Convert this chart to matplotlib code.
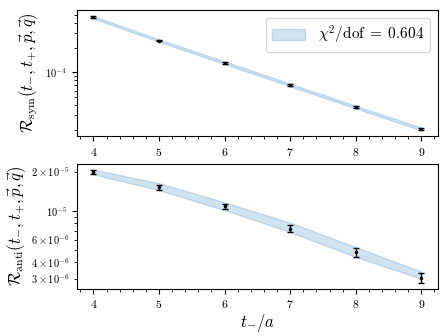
import matplotlib
matplotlib.use('Agg')
import matplotlib.pyplot as plt
from matplotlib.ticker import AutoMinorLocator

# Fonts: LaTeX-like look
plt.rcParams['mathtext.fontset'] = 'cm'
plt.rcParams['font.family'] = 'serif'
plt.rcParams['font.serif'] = ['cmr10', 'DejaVu Serif']
plt.rcParams['axes.formatter.use_mathtext'] = True
plt.rcParams['axes.unicode_minus'] = False

# Data
t_minus = [4, 5, 6, 7, 8, 9]

sym_vals = [4.69e-4, 2.44e-4, 1.31e-4, 7.0e-5, 3.77e-5, 2.04e-5]
sym_errs = [1.2e-5, 0.6e-5, 0.33e-5, 0.18e-5, 0.10e-5, 0.06e-5]
sym_band_lo = [4.52e-4, 2.36e-4, 1.26e-4, 6.75e-5, 3.63e-5, 1.96e-5]
sym_band_hi = [4.85e-4, 2.53e-4, 1.36e-4, 7.27e-5, 3.91e-5, 2.12e-5]

anti_vals = [2.0e-5, 1.52e-5, 1.08e-5, 7.29e-6, 4.78e-6, 3.06e-6]
anti_errs = [0.07e-5, 0.07e-5, 0.055e-5, 0.45e-6, 0.37e-6, 0.28e-6]
anti_band_lo = [1.90e-5, 1.44e-5, 1.01e-5, 6.85e-6, 4.40e-6, 3.00e-6]
anti_band_hi = [2.07e-5, 1.63e-5, 1.16e-5, 8.10e-6, 5.25e-6, 3.40e-6]

chi2_label = r'$\chi^2/\mathrm{dof}\;=\;0.604$'

fig = plt.figure(figsize=(4.48, 3.36), dpi=100)
ax_top = fig.add_axes([0.172, 0.595, 0.805, 0.374])
ax_bot = fig.add_axes([0.172, 0.141, 0.805, 0.371])

band_color = 'tab:blue'

# Top panel
ax_top.fill_between(t_minus, sym_band_lo, sym_band_hi, color=band_color,
                    alpha=0.2, label=chi2_label)
ax_top.errorbar(t_minus, sym_vals, yerr=sym_errs, fmt='.', color='k',
                ms=3, capsize=2, elinewidth=1)
ax_top.set_yscale('log')
ax_top.set_ylabel(r'$\mathcal{R}_{\rm sym}(t_{-}, t_{+}, \vec{p}, \vec{q})$',
                  fontsize=12)
ax_top.legend(loc='upper right', fontsize=11, handlelength=2.2)

# Bottom panel
ax_bot.fill_between(t_minus, anti_band_lo, anti_band_hi, color=band_color,
                    alpha=0.2)
ax_bot.errorbar(t_minus, anti_vals, yerr=anti_errs, fmt='.', color='k',
                ms=3, capsize=2, elinewidth=1)
ax_bot.set_yscale('log')
ax_bot.set_ylabel(r'$\mathcal{R}_{\rm anti}(t_{-}, t_{+}, \vec{p}, \vec{q})$',
                  fontsize=12, labelpad=2)
ax_bot.set_xlabel(r'$t_{-}/a$', fontsize=12, labelpad=1)

for ax in (ax_top, ax_bot):
    ax.set_xticks(t_minus)
    ax.xaxis.set_minor_locator(AutoMinorLocator(5))
    ax.tick_params(which='both', labelsize=7.5)
ax_top.tick_params(axis='x', labelsize=8.5)
ax_bot.tick_params(axis='x', labelsize=8.5)

fig.savefig('out.png', dpi=100)
